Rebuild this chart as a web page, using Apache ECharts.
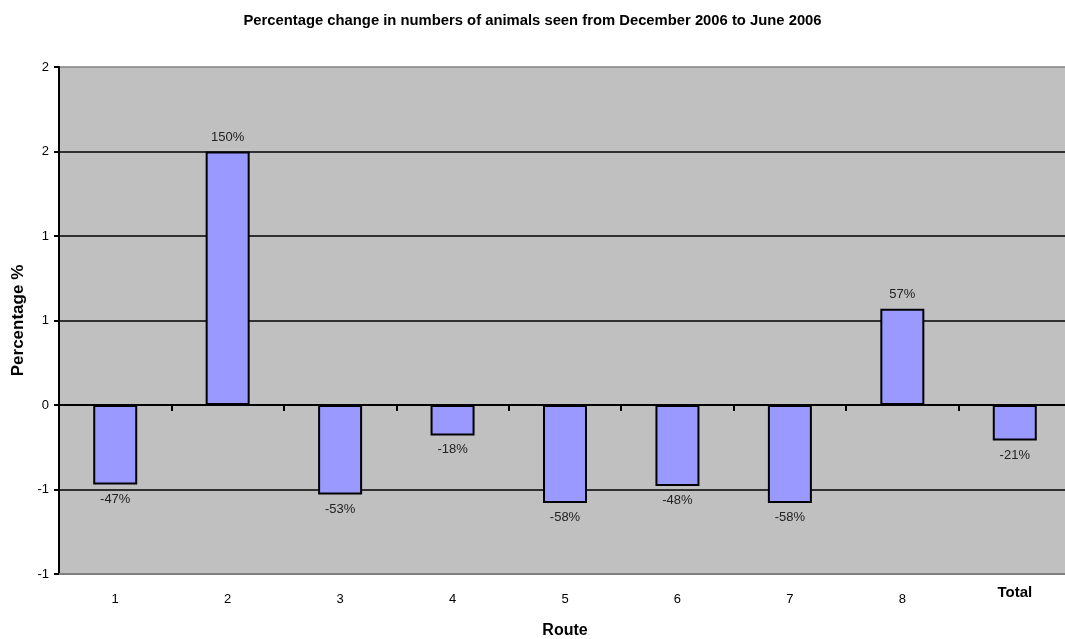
<!DOCTYPE html>
<html>
<head>
<meta charset="utf-8">
<script src="https://cdn.jsdelivr.net/npm/echarts@6/dist/echarts.min.js"></script>
<style>
  html, body { margin: 0; padding: 0; background: #fff; }
  #chart { width: 1065px; height: 639px; }
</style>
</head>
<body>
<div id="chart"></div>
<script>
// routes and percentage change (as fractions)
var routes = ['1', '2', '3', '4', '5', '6', '7', '8', 'Total'];
var changes = [-0.47, 1.5, -0.53, -0.18, -0.58, -0.48, -0.58, 0.57, -0.21];
// Excel-style rounded tick labels, from -1 to 2 step 0.5
var yTickLabels = ['-1', '-1', '0', '1', '1', '2', '2'];

var myChart = echarts.init(document.getElementById('chart'));
var font = 'Liberation Sans, Arial, sans-serif';

var barData = changes.map(function (v) {
  return {
    value: v,
    label: { position: v < 0 ? 'bottom' : 'top' }
  };
});

var option = {
  animation: false,
  textStyle: { fontFamily: font },
  title: {
    text: 'Percentage change in numbers of animals seen from December 2006 to June 2006',
    left: 'center',
    top: 8,
    textStyle: { fontFamily: font, fontSize: 14.8, fontWeight: 'bold', color: '#000' }
  },
  grid: {
    outerBoundsMode: 'none',
    containLabel: false,
    left: 59,
    width: 1012,
    top: 67,
    bottom: 65,
    show: true,
    backgroundColor: '#C0C0C0',
    borderWidth: 0
  },
  xAxis: [
    {
      type: 'category',
      data: routes,
      axisLine: { show: true, onZero: true, lineStyle: { color: '#000', width: 2 } },
      axisTick: { show: true, length: 6, lineStyle: { color: '#000', width: 2 } },
      axisLabel: { show: false }
    },
    {
      type: 'category',
      data: routes,
      position: 'bottom',
      name: 'Route',
      nameLocation: 'middle',
      nameGap: 49,
      nameTextStyle: { fontFamily: font, fontSize: 16, fontWeight: 'bold', color: '#000' },
      axisLine: { show: true, onZero: false, lineStyle: { color: '#808080', width: 2 } },
      axisTick: { show: false },
      axisLabel: {
        margin: 11,
        fontFamily: font,
        fontSize: 13,
        color: '#000',
        formatter: function (v) {
          return v === 'Total' ? '{t|' + v + '}' : '{n|' + v + '}';
        },
        rich: {
          n: { fontFamily: font, fontSize: 13, color: '#000', padding: [8, 0, 0, 0] },
          t: { fontFamily: font, fontSize: 15, fontWeight: 'bold', color: '#000' }
        }
      }
    }
  ],
  yAxis: {
    type: 'value',
    min: -1,
    max: 2,
    interval: 0.5,
    name: 'Percentage %',
    nameLocation: 'middle',
    nameGap: 31,
    nameTextStyle: { fontFamily: font, fontSize: 17, fontWeight: 'bold', color: '#000' },
    axisLine: { show: true, lineStyle: { color: '#000', width: 2 } },
    axisTick: { show: true, length: 5, lineStyle: { color: '#000', width: 2 } },
    axisLabel: {
      margin: 10,
      fontFamily: font,
      fontSize: 13,
      color: '#000',
      formatter: function (v, i) { return yTickLabels[i]; }
    },
    splitLine: {
      show: true,
      lineStyle: {
        color: ['#808080', '#000', '#000', '#000', '#000', '#000', '#808080'],
        width: 1.5
      }
    }
  },
  series: [
    {
      name: 'Percentage',
      type: 'bar',
      xAxisIndex: 0,
      data: barData,
      barWidth: 44,
      itemStyle: { color: '#9999FF', borderColor: '#000', borderWidth: 2 },
      label: {
        show: true,
        distance: 8,
        fontFamily: font,
        fontSize: 13,
        color: '#222',
        formatter: function (p) { return Math.round(p.value * 100) + '%'; }
      }
    }
  ]
};

option && myChart.setOption(option);
</script>
</body>
</html>
